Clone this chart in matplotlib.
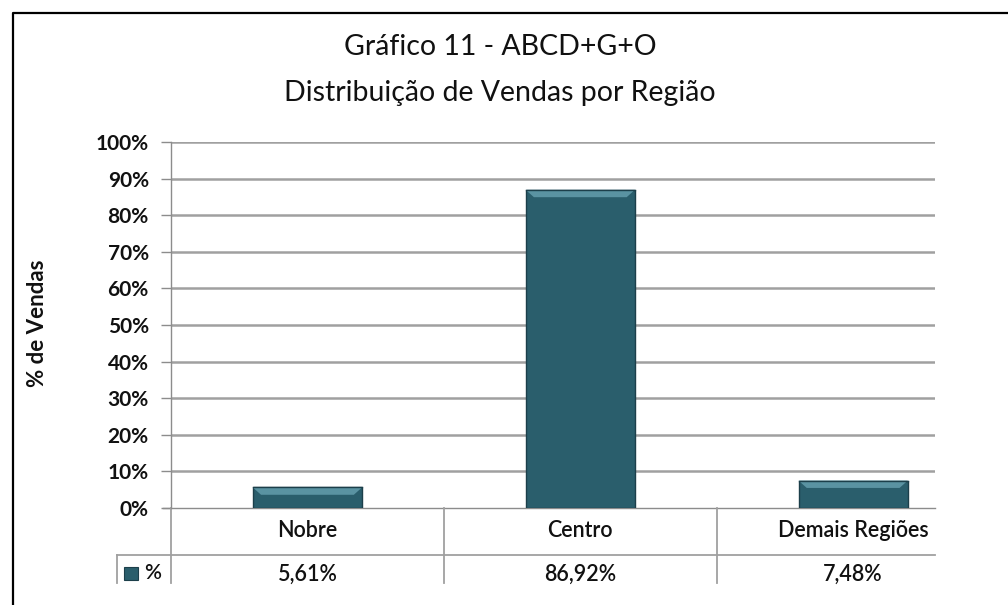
import matplotlib
matplotlib.use("Agg")
import matplotlib.pyplot as plt
from matplotlib.lines import Line2D
from matplotlib.patches import Rectangle
from matplotlib.transforms import blended_transform_factory

# data
categories = ["Nobre", "Centro", "Demais Regiões"]
values = [5.61, 86.92, 7.48]          # % de vendas
value_labels = ["5,61%", "86,92%", "7,48%"]
yticks = [0, 10, 20, 30, 40, 50, 60, 70, 80, 90, 100]
title = "Gráfico 11 - ABCD+G+O\nDistribuição de Vendas por Região"
ylabel = "% de Vendas"
series_name = "%"

BAR = "#2A5E6C"
BAR_EDGE = "#1C3F4A"
BAR_TOP = "#5A93A2"
GRID = "#A0A0A0"
TXT = "#111111"

plt.rcParams["font.family"] = ["Lato", "DejaVu Sans"]

W, H = 1008, 605
fig = plt.figure(figsize=(W / 100, H / 100), dpi=100)

# outer frame (left and top only, rest is cut off)
fig.add_artist(Line2D([13 / W, 13 / W, 1.0], [0.0, 1 - 13 / H, 1 - 13 / H],
                      color="black", lw=1.6, transform=fig.transFigure))

ax = fig.add_axes([171 / W, 97 / H, (935 - 171) / W, (508 - 142) / H])
ax.set_xlim(-0.5, 2.3)
ax.set_ylim(0, 100)

x = list(range(len(categories)))
bw = 0.40
ax.bar(x, values, width=bw, color=BAR, edgecolor=BAR_EDGE, linewidth=1.0, zorder=3)
# bevelled top of each bar
dx, dy = 0.03, 2.0
for xi, v in zip(x, values):
    l, r = xi - bw / 2, xi + bw / 2
    ax.fill([l, r, r - dx, l + dx], [v, v, v - dy, v - dy], color=BAR_TOP,
            lw=0, zorder=4)
    ax.plot([l, r], [v, v], color=BAR_EDGE, lw=1.0, zorder=5)

ax.set_yticks(yticks)
ax.set_yticklabels([f"{t}%" for t in yticks], fontsize=15, fontweight="bold", color=TXT)
ax.set_xticks([])
ax.tick_params(axis="y", length=7, width=1, color="#8C8C8C", pad=9)
for t in yticks[1:]:
    ax.axhline(t, color=GRID, lw=1.8, zorder=1)
for s in ["top", "right", "bottom"]:
    ax.spines[s].set_visible(False)
ax.spines["left"].set_color("#8C8C8C")
ax.spines["left"].set_linewidth(1)
ax.axhline(0, color="#8C8C8C", lw=1, zorder=2, xmin=-8 / 764, clip_on=False)

fig.text(38 / W, 1 - 323 / H, ylabel, rotation=90, ha="center", va="center",
         fontsize=16, fontweight="bold", color=TXT)

fig.text(500 / W, 1 - 70 / H, title, ha="center", va="center", fontsize=20.5,
         linespacing=1.95, color=TXT)

# data table below the axis
tr = blended_transform_factory(ax.transData, ax.transAxes)
row_line = -0.128
bottom = -0.205
lc = "#A0A0A0"
ax.plot([-0.698, 2.3], [row_line, row_line], color=lc, lw=1.3, transform=tr, clip_on=False)
ax.plot([-0.5, -0.5], [0, bottom], color=lc, lw=1.3, transform=tr, clip_on=False)
ax.plot([-0.698, -0.698], [row_line, bottom], color=lc, lw=1.3, transform=tr, clip_on=False)
for b in [0.5, 1.5]:
    ax.plot([b, b], [0, bottom], color=lc, lw=1.3, transform=tr, clip_on=False)
for i, (c, v) in enumerate(zip(categories, value_labels)):
    ax.text(i, -0.062, c, transform=tr, ha="center", va="center", fontsize=15.5,
            fontweight="semibold", color=TXT)
    ax.text(i, -0.182, v, transform=tr, ha="center", va="center", fontsize=15.5,
            fontweight="semibold", color=TXT)
ax.add_patch(Rectangle((-0.672, -0.196), 0.052, 0.036, transform=tr, clip_on=False,
                       facecolor=BAR, edgecolor=BAR_EDGE, lw=0.8))
ax.text(-0.6, -0.178, series_name, transform=tr, ha="left", va="center", fontsize=15,
        fontweight="semibold", color=TXT)

fig.savefig("out.png", dpi=100)
